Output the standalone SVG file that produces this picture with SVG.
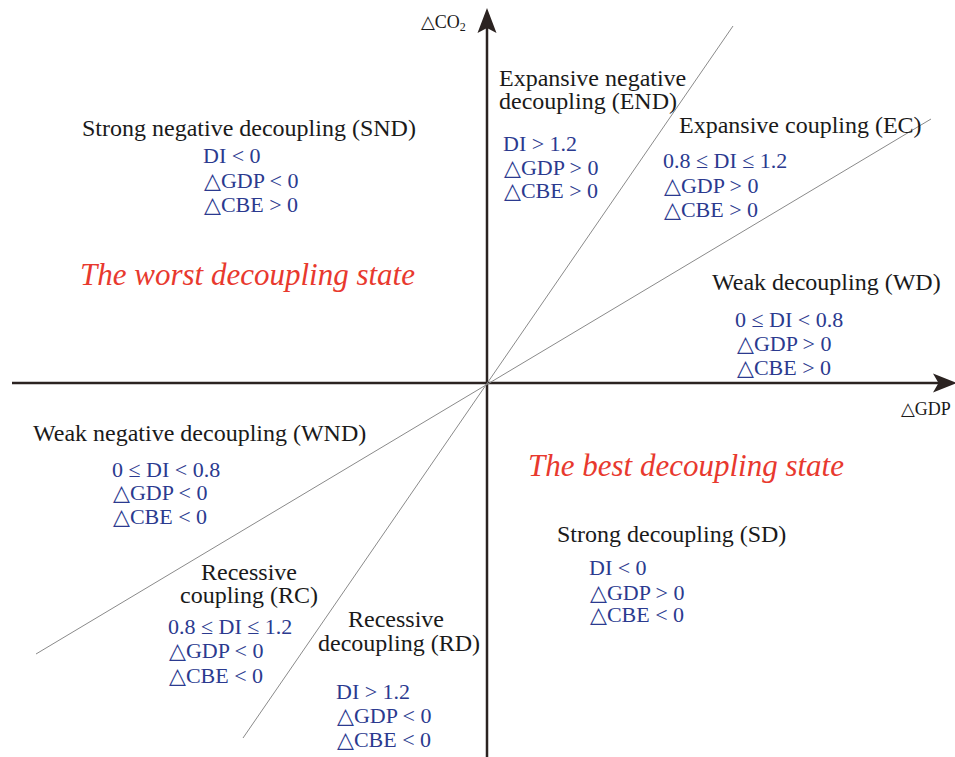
<svg xmlns="http://www.w3.org/2000/svg" width="955" height="757" viewBox="0 0 955 757">
<style>
text{font-family:"Liberation Serif","Times New Roman","DejaVu Serif",serif}
.lb{font-size:24px;fill:#1a1a1a}
.bl{font-size:22px;fill:#2b3a8f}
.rd{font-size:31px;fill:#e8392e;font-style:italic}
.ax{font-size:18px;fill:#1a1a1a}
.axis{stroke:#2b2321;stroke-width:2.5;fill:none}
.diag{stroke:#8a8a8a;stroke-width:1;fill:none}
</style>
<rect width="955" height="757" fill="#ffffff"/>
<g id="connectors">
<line class="axis" x1="12" y1="383" x2="945" y2="383"/>
<path d="M957,383 L933,373.5 L938.5,383 L933,392.5 Z" fill="#2b2321"/>
<line class="axis" x1="487" y1="757" x2="487" y2="22"/>
<path d="M487,8 L496.5,33 L487,28 L477.5,33 Z" fill="#2b2321"/>
<line class="diag" x1="733" y1="26" x2="243" y2="738"/>
<line class="diag" x1="931" y1="119" x2="36" y2="654"/>
</g>
<g id="axis-labels">
<text class="ax" x="421" y="28">△CO<tspan font-size="12" dy="3">2</tspan></text>
<text class="ax" x="901" y="415">△GDP</text>
</g>
<g id="SND">
<text class="lb" x="82" y="136">Strong negative decoupling (SND)</text>
<text class="bl" x="203" y="163">DI &lt; 0</text>
<text class="bl" x="204" y="188">△GDP &lt; 0</text>
<text class="bl" x="204" y="212">△CBE &gt; 0</text>
</g>
<g id="worst">
<text class="rd" x="80" y="285">The worst decoupling state</text>
</g>
<g id="END">
<text class="lb" x="499" y="86">Expansive negative</text>
<text class="lb" x="499" y="109">decoupling (END)</text>
<text class="bl" x="503" y="151">DI &gt; 1.2</text>
<text class="bl" x="504" y="175">△GDP &gt; 0</text>
<text class="bl" x="504" y="198">△CBE &gt; 0</text>
</g>
<g id="EC">
<text class="lb" x="679" y="133">Expansive coupling (EC)</text>
<text class="bl" x="663" y="168">0.8 ≤ DI ≤ 1.2</text>
<text class="bl" x="664" y="193">△GDP &gt; 0</text>
<text class="bl" x="664" y="217">△CBE &gt; 0</text>
</g>
<g id="WD">
<text class="lb" x="712" y="290">Weak decoupling (WD)</text>
<text class="bl" x="735" y="327">0 ≤ DI &lt; 0.8</text>
<text class="bl" x="737" y="351">△GDP &gt; 0</text>
<text class="bl" x="737" y="375">△CBE &gt; 0</text>
</g>
<g id="WND">
<text class="lb" x="33" y="441">Weak negative decoupling (WND)</text>
<text class="bl" x="112" y="477">0 ≤ DI &lt; 0.8</text>
<text class="bl" x="113" y="500">△GDP &lt; 0</text>
<text class="bl" x="113" y="524">△CBE &lt; 0</text>
</g>
<g id="best">
<text class="rd" x="528" y="476">The best decoupling state</text>
</g>
<g id="SD">
<text class="lb" x="557" y="542">Strong decoupling (SD)</text>
<text class="bl" x="589" y="575">DI &lt; 0</text>
<text class="bl" x="590" y="600">△GDP &gt; 0</text>
<text class="bl" x="590" y="622">△CBE &lt; 0</text>
</g>
<g id="RC">
<text class="lb" x="201" y="580">Recessive</text>
<text class="lb" x="180" y="603">coupling (RC)</text>
<text class="bl" x="168" y="634">0.8 ≤ DI ≤ 1.2</text>
<text class="bl" x="169" y="658">△GDP &lt; 0</text>
<text class="bl" x="169" y="683">△CBE &lt; 0</text>
</g>
<g id="RD">
<text class="lb" x="348" y="627">Recessive</text>
<text class="lb" x="318" y="651">decoupling (RD)</text>
<text class="bl" x="336" y="699">DI &gt; 1.2</text>
<text class="bl" x="337" y="723">△GDP &lt; 0</text>
<text class="bl" x="337" y="747">△CBE &lt; 0</text>
</g>
</svg>
